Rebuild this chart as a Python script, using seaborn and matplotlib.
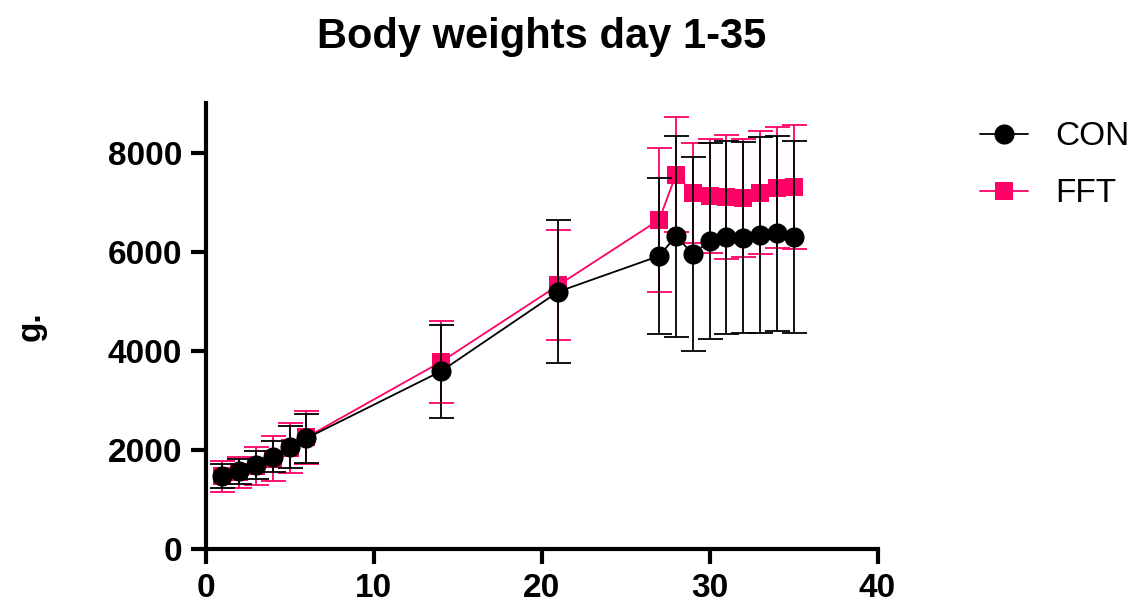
import numpy as np
import pandas as pd
import matplotlib
matplotlib.use("Agg")
import matplotlib.pyplot as plt
import seaborn as sns

days = [1, 2, 3, 4, 5, 6, 14, 21, 27, 28, 29, 30, 31, 32, 33, 34, 35]
con_mean = [1480, 1570, 1700, 1870, 2070, 2240, 3590, 5200, 5920, 6320, 5960, 6220, 6300, 6290, 6340, 6375, 6300]
con_sd = [245, 260, 280, 310, 420, 500, 935, 1450, 1580, 2030, 1950, 1970, 1950, 1930, 1980, 1975, 1945]
fft_mean = [1470, 1550, 1680, 1830, 2040, 2260, 3780, 5330, 6650, 7560, 7200, 7130, 7110, 7090, 7200, 7300, 7310]
fft_sd = [320, 320, 390, 460, 510, 540, 830, 1115, 1450, 1165, 1010, 1150, 1250, 1200, 1240, 1220, 1245]
groups = ["CON", "FFT"]
title = "Body weights day 1-35"
y_label = "g."
x_ticks = [0, 10, 20, 30, 40]
y_ticks = [0, 2000, 4000, 6000, 8000]

PINK = "#FF0066"

sns.set_theme(style="ticks")
plt.rcParams["font.family"] = ["Liberation Sans", "DejaVu Sans"]

df = pd.DataFrame({
    "day": days * 2,
    "weight": con_mean + fft_mean,
    "sd": con_sd + fft_sd,
    "group": ["CON"] * len(days) + ["FFT"] * len(days),
})

fig = plt.figure(figsize=(11.38, 6.08), dpi=100)
ax = fig.add_axes([0.1807, 0.0966, 0.5904, 0.7334])

styles = {"CON": dict(color="black", marker="o", ms=14.5, z=4),
          "FFT": dict(color=PINK, marker="s", ms=13, z=3)}

for g in ["FFT", "CON"]:
    sub = df[df["group"] == g]
    st = styles[g]
    ax.errorbar(sub["day"], sub["weight"], yerr=sub["sd"], fmt="none",
                ecolor=st["color"], elinewidth=1.3, capsize=9, capthick=1.3,
                zorder=st["z"])
    sns.lineplot(data=sub, x="day", y="weight", ax=ax, color=st["color"],
                 marker=st["marker"], markersize=st["ms"], markeredgewidth=0,
                 linewidth=1.3, label=g, zorder=st["z"] + 0.5, errorbar=None)

ax.set_xlim(0, 40)
ax.set_ylim(0, 9000)
ax.set_xticks(x_ticks)
ax.set_yticks(y_ticks)
for lab in ax.get_xticklabels() + ax.get_yticklabels():
    lab.set_fontweight("bold")
ax.tick_params(axis="both", direction="out", length=11, width=3, labelsize=24,
               pad=6, color="black", labelcolor="black")
for s in ["left", "bottom"]:
    ax.spines[s].set_linewidth(3)
    ax.spines[s].set_color("black")
sns.despine(ax=ax)

ax.set_xlabel("")
ax.set_ylabel(y_label, fontsize=24, fontweight="bold", color="black")
ax.yaxis.set_label_coords(-0.236, 0.5)
ax.set_title(title, fontsize=30, fontweight="bold", pad=40, color="black")

handles, labels = ax.get_legend_handles_labels()
order = [labels.index(g) for g in groups]
leg = ax.legend([handles[i] for i in order], [labels[i] for i in order],
                loc="upper left", bbox_to_anchor=(1.108, 1.027), frameon=False,
                fontsize=24, handlelength=1.45, handletextpad=0.8,
                labelspacing=0.78, labelcolor="black")

fig.savefig("out.png", dpi=100)
